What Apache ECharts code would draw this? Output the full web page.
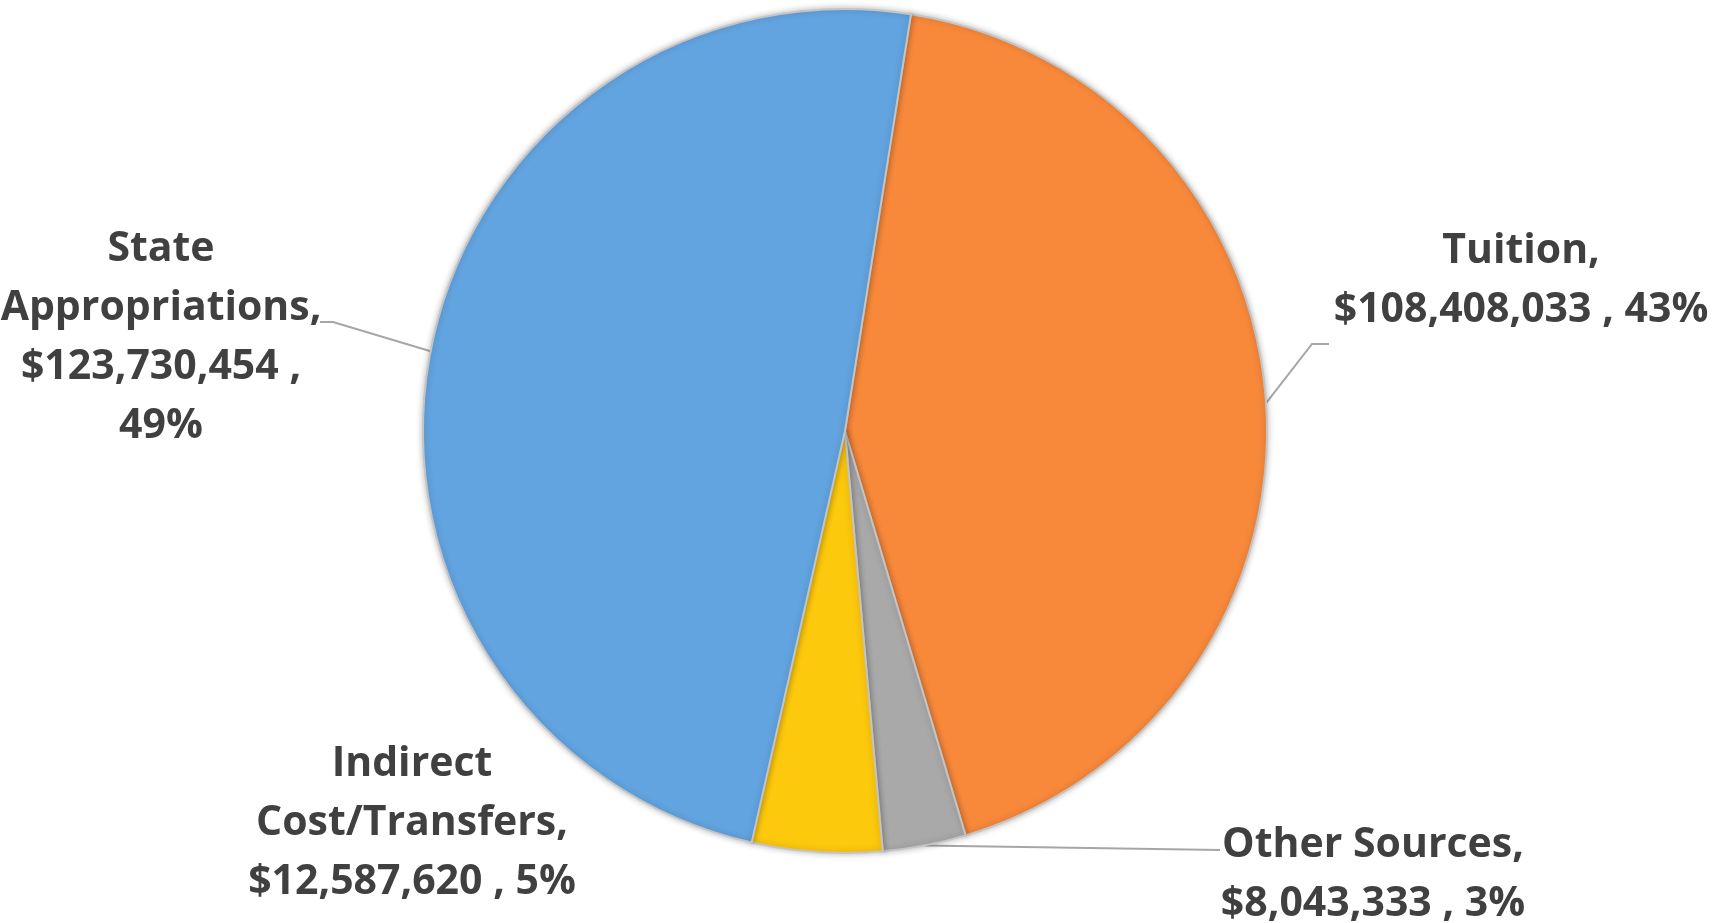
<!DOCTYPE html>
<html>
<head>
<meta charset="utf-8">
<script src="https://cdn.jsdelivr.net/npm/echarts@6/dist/echarts.min.js"></script>
<style>
  html, body { margin: 0; padding: 0; background: #fff; }
  #main { width: 1729px; height: 923px; }
</style>
</head>
<body>
<div id="main"></div>
<script>
// revenue sources
var names = ['Tuition', 'Other Sources', 'Indirect Cost/Transfers', 'State Appropriations'];
var values = [108408033, 8043333, 12587620, 123730454];
var colors = ['#f8893b', '#a9a9a9', '#fdc90d', '#62a4e0'];
// how each label is broken into lines
var labelHeads = ['Tuition,', 'Other Sources,', 'Indirect\nCost/Transfers,', 'State\nAppropriations,'];

var myChart = echarts.init(document.getElementById('main'));

var total = 0;
for (var i = 0; i < values.length; i++) total += values[i];

var fmtMoney = function (v) {
  return '$' + String(v).replace(/\B(?=(\d{3})+(?!\d))/g, ',');
};

var dataList = [];
for (var j = 0; j < names.length; j++) {
  dataList.push({
    name: names[j],
    value: values[j],
    itemStyle: { color: colors[j] },
    labelLine: { show: j !== 2 }
  });
}

// where each label sits (center of text block) and its leader bend
var labelPos = [
  { x: 1521, y: 281, bend: [[1312, 344], [1329, 344]] },
  { x: 1373, y: 875, bend: [[1220, 850], [1220, 850]] },
  { x: 412, y: 823, bend: null },
  { x: 161, y: 338, bend: [[333, 322], [320, 322]] }
];

var option = {
  backgroundColor: '#fff',
  series: [
    {
      type: 'pie',
      center: [845, 431],
      radius: 422,
      startAngle: 81,
      clockwise: true,
      avoidLabelOverlap: false,
      data: dataList,
      itemStyle: {
        borderColor: '#c4c4c4',
        borderWidth: 2,
        shadowBlur: 6,
        shadowColor: 'rgba(0,0,0,0.25)'
      },
      label: {
        show: true,
        position: 'outside',
        fontFamily: 'Open Sans',
        fontWeight: 'bold',
        fontSize: 41,
        lineHeight: 59,
        color: '#404040',
        align: 'center',
        formatter: function (p) {
          var pct = Math.round(p.value / total * 100);
          if (p.dataIndex === 3) {
            return labelHeads[3] + '\n' + fmtMoney(p.value) + ' ,\n' + pct + '%';
          }
          return labelHeads[p.dataIndex] + '\n' + fmtMoney(p.value) + ' , ' + pct + '%';
        }
      },
      labelLine: {
        show: true,
        lineStyle: { color: '#a6a6a6', width: 2 }
      },
      labelLayout: function (params) {
        var lp = labelPos[params.dataIndex];
        var res = { x: lp.x, y: lp.y, align: 'center', verticalAlign: 'middle' };
        if (lp.bend && params.labelLinePoints) {
          res.labelLinePoints = [params.labelLinePoints[0], lp.bend[0], lp.bend[1]];
        }
        return res;
      },
      emphasis: { disabled: true }
    }
  ]
};

myChart.setOption(option);
</script>
</body>
</html>
